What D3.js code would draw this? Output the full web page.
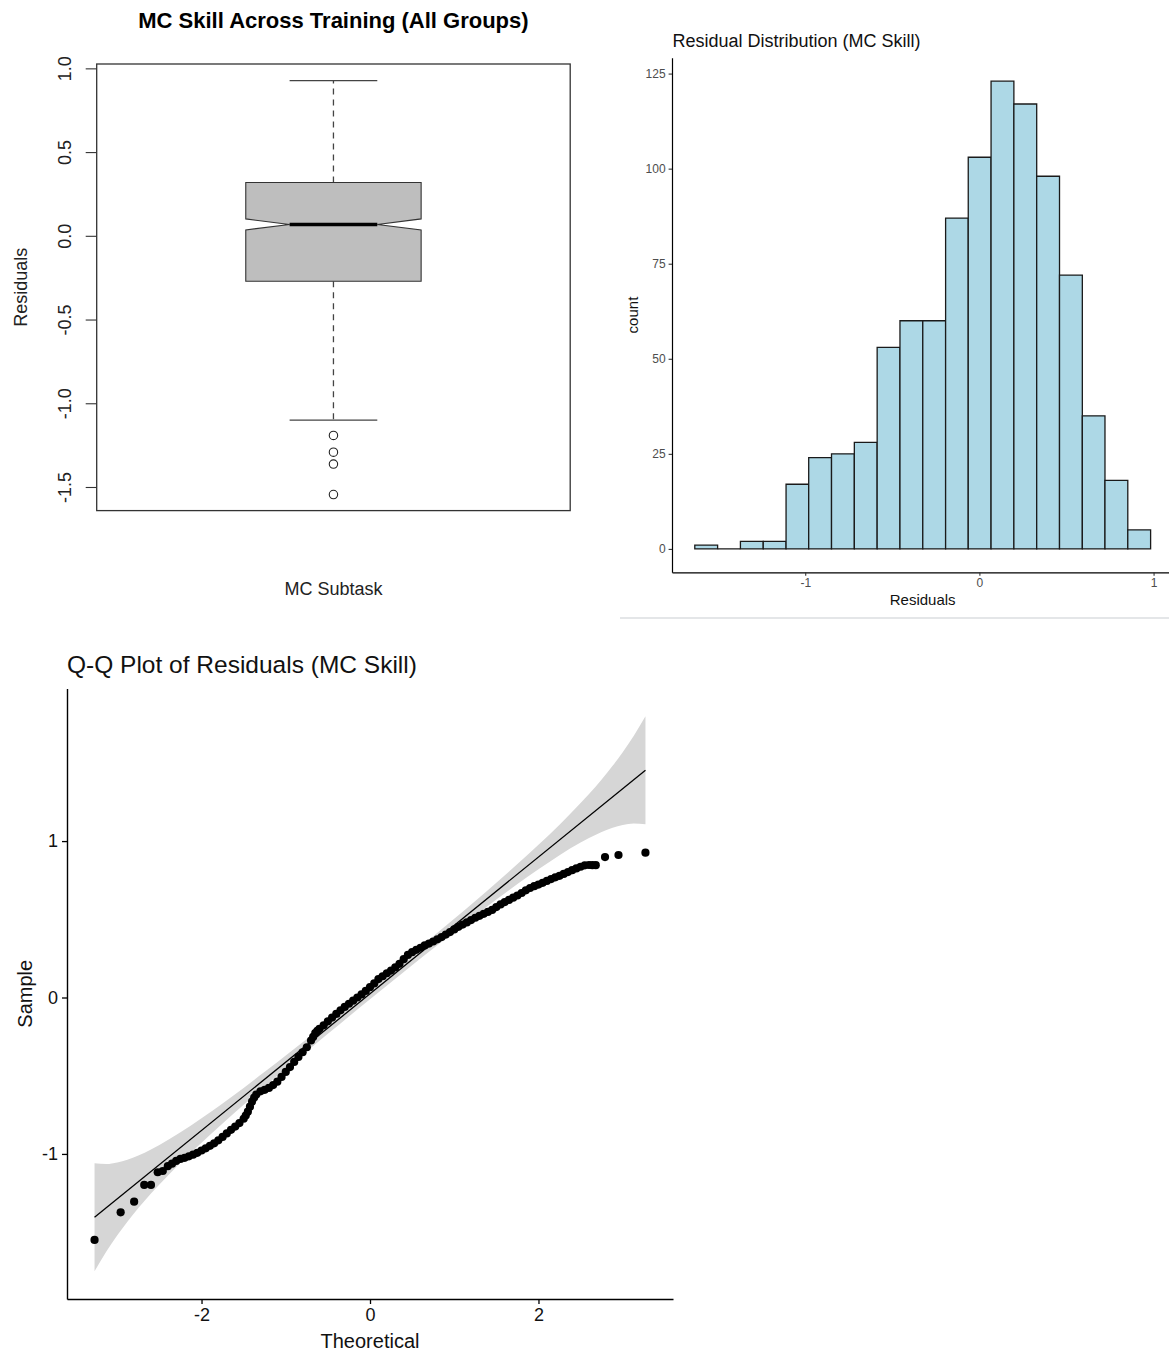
<!DOCTYPE html>
<html>
<head>
<meta charset="utf-8">
<script src="https://cdn.jsdelivr.net/npm/d3@7"></script>
<style>
  body { margin: 0; background: #fff; }
  svg text { font-family: "Liberation Sans", Arial, sans-serif; }
</style>
</head>
<body>
<div id="chart"></div>
<script>
// ---- boxplot data (MC Subtask residuals) ----
var boxCategory = ["MC Subtask"];
var boxStats = [-1.101, -0.271, 0.068, 0.318, 0.927]; // lower whisker, Q1, median, Q3, upper whisker
var boxNotch = [0.035, 0.101];
var boxOutliers = [-1.192, -1.292, -1.363, -1.545];
var boxTicks = [-1.5, -1.0, -0.5, 0.0, 0.5, 1.0];

// ---- histogram data ----
var histBreaks = [-1.634, -1.503, -1.372, -1.241, -1.110, -0.980, -0.849, -0.718, -0.587, -0.456, -0.325,
                  -0.194, -0.064, 0.067, 0.198, 0.329, 0.460, 0.591, 0.721, 0.852, 0.983];
var histCounts = [1, 0, 2, 2, 17, 24, 25, 28, 53, 60, 60, 87, 103, 123, 117, 98, 72, 35, 18, 5];
var histXTicks = [-1, 0, 1];
var histYTicks = [0, 25, 50, 75, 100, 125];

// ---- Q-Q plot data ----
var qqTheoretical = [-3.27, -2.96, -2.80, -2.68, -2.60, -2.52, -2.46,
  -2.40, -2.35, -2.30, -2.25, -2.20, -2.15, -2.10, -2.05, -2.00, -1.95, -1.90, -1.85, -1.80, -1.75,
  -1.70, -1.65, -1.60, -1.55, -1.50, -1.475, -1.45, -1.425, -1.40, -1.375, -1.35, -1.30, -1.25, -1.20, -1.15,
  -1.10, -1.05, -1.00, -0.95, -0.90, -0.85, -0.80, -0.75, -0.70, -0.675, -0.65, -0.625, -0.60, -0.55,
  -0.50, -0.45, -0.40, -0.35, -0.30, -0.25, -0.20, -0.15, -0.10, -0.05, 0.00, 0.05, 0.10, 0.15,
  0.20, 0.25, 0.30, 0.35, 0.40, 0.45, 0.50, 0.55, 0.60, 0.65, 0.70, 0.75, 0.80, 0.85, 0.90, 0.95,
  1.00, 1.05, 1.10, 1.15, 1.20, 1.25, 1.30, 1.35, 1.40, 1.45, 1.50, 1.55, 1.60, 1.65, 1.70, 1.75,
  1.80, 1.85, 1.90, 1.95, 2.00, 2.05, 2.10, 2.15, 2.20, 2.25, 2.30, 2.35, 2.40, 2.45, 2.50, 2.55,
  2.60, 2.64, 2.68, 2.79, 2.95, 3.27];
var qqSample = [-1.550, -1.373, -1.305, -1.198, -1.198, -1.117, -1.109,
  -1.078, -1.062, -1.045, -1.032, -1.025, -1.015, -1.005, -0.993, -0.978, -0.964, -0.948, -0.932, -0.913, -0.891,
  -0.869, -0.846, -0.825, -0.803, -0.775, -0.755, -0.730, -0.698, -0.665, -0.640, -0.620, -0.600, -0.590, -0.578, -0.560,
  -0.538, -0.508, -0.476, -0.445, -0.412, -0.380, -0.350, -0.318, -0.275, -0.252, -0.228, -0.213, -0.200, -0.178,
  -0.152, -0.128, -0.105, -0.082, -0.060, -0.040, -0.020, 0.000, 0.020, 0.042, 0.066, 0.090, 0.118, 0.136,
  0.155, 0.172, 0.192, 0.215, 0.245, 0.272, 0.290, 0.305, 0.318, 0.333, 0.345, 0.358, 0.372, 0.386, 0.402, 0.418,
  0.435, 0.452, 0.466, 0.480, 0.495, 0.510, 0.522, 0.535, 0.547, 0.560, 0.578, 0.595, 0.610, 0.624, 0.638, 0.652,
  0.668, 0.685, 0.700, 0.712, 0.722, 0.733, 0.745, 0.757, 0.768, 0.778, 0.790, 0.802, 0.814, 0.825, 0.836, 0.845,
  0.847, 0.846, 0.846, 0.898, 0.911, 0.926];
var qqLineT = [-3.27, 3.27];
var qqLineS = [-1.405, 1.453];
var qqBandT  = [-3.27, -3.13, -3.00, -2.88, -2.75, -2.60, -2.50, -2.25, -2.00, -1.75, -1.50, -1.25, -1.00, -0.75, -0.50, -0.25,
                0.00, 0.25, 0.50, 0.75, 1.00, 1.25, 1.50, 1.75, 2.00, 2.25, 2.50, 2.60, 2.75, 2.88, 3.00, 3.13, 3.27];
var qqBandHi = [-1.060, -1.064, -1.054, -1.037, -1.010, -0.971, -0.943, -0.862, -0.772, -0.677, -0.578, -0.475, -0.371, -0.265, -0.158, -0.049,
                0.059, 0.169, 0.280, 0.391, 0.503, 0.617, 0.734, 0.853, 0.976, 1.104, 1.243, 1.301, 1.394, 1.481, 1.568, 1.672, 1.798];
var qqBandLo = [-1.750, -1.624, -1.520, -1.433, -1.346, -1.253, -1.195, -1.056, -0.928, -0.805, -0.686, -0.569, -0.455, -0.343, -0.232, -0.121,
                -0.011, 0.097, 0.206, 0.313, 0.419, 0.523, 0.626, 0.725, 0.820, 0.910, 0.991, 1.019, 1.058, 1.085, 1.102, 1.112, 1.108];
var qqXTicks = [-2, 0, 2];
var qqYTicks = [-1, 0, 1];

var W = 1169, H = 1354;
var svg = d3.select("#chart").append("svg")
  .attr("width", W)
  .attr("height", H)
  .style("display", "block");

// =========== Boxplot (base R style) ===========
var bx = d3.scaleLinear().domain([0.46, 1.54]).range([96.7, 570.2]);
var by = d3.scaleLinear().domain([-1.641, 1.026]).range([510.6, 64]);
var box = svg.append("g");

// y axis with rotated labels
var byAxis = box.append("g")
  .attr("transform", "translate(96.7,0)")
  .call(d3.axisLeft(by).tickValues(boxTicks).tickSize(11).tickFormat(function (d) { return d.toFixed(1); }));
byAxis.select(".domain").remove();
byAxis.selectAll("line").attr("stroke", "#333").attr("stroke-width", 1.1);
byAxis.selectAll("text")
  .attr("transform", "rotate(-90)")
  .attr("x", 0).attr("y", -26).attr("dy", 0)
  .style("text-anchor", "middle")
  .style("font-size", "18px")
  .attr("fill", "#222");

// whiskers (dashed)
var cx = bx(1);
box.append("line")
  .attr("x1", cx).attr("x2", cx)
  .attr("y1", by(boxStats[3])).attr("y2", by(boxStats[4]))
  .attr("stroke", "#444").attr("stroke-width", 1.3).attr("stroke-dasharray", "6,5");
box.append("line")
  .attr("x1", cx).attr("x2", cx)
  .attr("y1", by(boxStats[1])).attr("y2", by(boxStats[0]))
  .attr("stroke", "#444").attr("stroke-width", 1.3).attr("stroke-dasharray", "6,5");
// staples
[boxStats[0], boxStats[4]].forEach(function (v) {
  box.append("line")
    .attr("x1", bx(0.9)).attr("x2", bx(1.1))
    .attr("y1", by(v)).attr("y2", by(v))
    .attr("stroke", "#444").attr("stroke-width", 1.4);
});

// notched box
var L = bx(0.8), R = bx(1.2), Li = bx(0.9), Ri = bx(1.1);
var notchPts = [
  [L, by(boxStats[3])], [R, by(boxStats[3])], [R, by(boxNotch[1])], [Ri, by(boxStats[2])],
  [R, by(boxNotch[0])], [R, by(boxStats[1])], [L, by(boxStats[1])], [L, by(boxNotch[0])],
  [Li, by(boxStats[2])], [L, by(boxNotch[1])]
];
box.append("path")
  .attr("d", d3.line()(notchPts) + "Z")
  .attr("fill", "#bebebe")
  .attr("stroke", "#333")
  .attr("stroke-width", 1.1);
// median
box.append("line")
  .attr("x1", Li).attr("x2", Ri)
  .attr("y1", by(boxStats[2])).attr("y2", by(boxStats[2]))
  .attr("stroke", "#000").attr("stroke-width", 3.5);

// outliers
box.selectAll(".outlier")
  .data(boxOutliers)
  .enter().append("circle")
  .attr("class", "outlier")
  .attr("cx", cx)
  .attr("cy", function (d) { return by(d); })
  .attr("r", 4.2)
  .attr("fill", "none")
  .attr("stroke", "#222")
  .attr("stroke-width", 1.1);

// frame
box.append("rect")
  .attr("x", 96.7).attr("y", 64)
  .attr("width", 570.2 - 96.7).attr("height", 510.6 - 64)
  .attr("fill", "none").attr("stroke", "#333").attr("stroke-width", 1.3);

// titles
box.append("text")
  .attr("x", cx).attr("y", 28)
  .style("text-anchor", "middle")
  .style("font-size", "22px").style("font-weight", "bold")
  .text("MC Skill Across Training (All Groups)");
box.append("text")
  .attr("x", cx).attr("y", 595)
  .style("text-anchor", "middle")
  .style("font-size", "18px").attr("fill", "#222")
  .text(boxCategory[0]);
box.append("text")
  .attr("transform", "translate(27," + ((64 + 510.6) / 2) + ") rotate(-90)")
  .style("text-anchor", "middle")
  .style("font-size", "18px").attr("fill", "#222")
  .text("Residuals");

// =========== Histogram (ggplot classic style) ===========
var hist = svg.append("g");
var hLo = histBreaks[0], hHi = histBreaks[histBreaks.length - 1];
var hPad = (hHi - hLo) * 0.05;
var hx = d3.scaleLinear().domain([hLo - hPad, hHi + hPad]).range([672, 1173.4]);
var hMax = d3.max(histCounts);
var hy = d3.scaleLinear().domain([-hMax * 0.05, hMax * 1.05]).range([572.3, 57.8]);

hist.selectAll(".bar")
  .data(histCounts)
  .enter().append("path")
  .attr("class", "bar")
  .attr("d", function (d, i) {
    var x0 = hx(histBreaks[i]), x1 = hx(histBreaks[i + 1]);
    return "M" + x0 + "," + hy(0) + "V" + hy(d) + "H" + x1 + "V" + hy(0) + "Z";
  })
  .attr("fill", "#add8e6")
  .attr("stroke", "#1a1a1a")
  .attr("stroke-width", 1.3);

var hxAxis = hist.append("g")
  .attr("transform", "translate(0,572.3)")
  .call(d3.axisBottom(hx).tickValues(histXTicks).tickSize(3.4).tickSizeOuter(0).tickPadding(3)
    .tickFormat(function (d) { return String(d); }));
var hyAxis = hist.append("g")
  .attr("transform", "translate(672,0)")
  .call(d3.axisLeft(hy).tickValues(histYTicks).tickSize(3.4).tickSizeOuter(0).tickPadding(3));
[hxAxis, hyAxis].forEach(function (a) {
  a.select(".domain").attr("stroke", "#000").attr("stroke-width", 1.2);
  a.selectAll(".tick line").attr("stroke", "#333").attr("stroke-width", 1.1);
  a.selectAll(".tick text").attr("fill", "#4d4d4d").style("font-size", "12px");
});

hist.append("text")
  .attr("x", 672.5).attr("y", 47)
  .style("font-size", "18px").attr("fill", "#111")
  .text("Residual Distribution (MC Skill)");
hist.append("text")
  .attr("x", (672 + 1173.4) / 2).attr("y", 605)
  .style("text-anchor", "middle")
  .style("font-size", "15px").attr("fill", "#111")
  .text("Residuals");
hist.append("text")
  .attr("transform", "translate(637.5," + ((57.8 + 572.3) / 2) + ") rotate(-90)")
  .style("text-anchor", "middle")
  .style("font-size", "15px").attr("fill", "#111")
  .text("count");

// separator below the histogram panel
svg.append("rect")
  .attr("x", 620).attr("y", 617)
  .attr("width", W - 620).attr("height", 2)
  .attr("fill", "#e4e6e8");

// =========== Q-Q plot (ggpubr style) ===========
var qq = svg.append("g");
var tExt = d3.extent(qqTheoretical);
var tPad = (tExt[1] - tExt[0]) * 0.05;
var qx = d3.scaleLinear().domain([tExt[0] - tPad, tExt[1] + tPad]).range([67, 673]);
var sLo = Math.min(d3.min(qqBandLo), d3.min(qqSample));
var sHi = Math.max(d3.max(qqBandHi), d3.max(qqSample));
var sPad = (sHi - sLo) * 0.05;
var qy = d3.scaleLinear().domain([sLo - sPad, sHi + sPad]).range([1299, 688.5]);

var bandIdx = d3.range(qqBandT.length);
qq.append("path")
  .datum(bandIdx)
  .attr("d", d3.area()
    .x(function (i) { return qx(qqBandT[i]); })
    .y0(function (i) { return qy(qqBandLo[i]); })
    .y1(function (i) { return qy(qqBandHi[i]); })
    .curve(d3.curveMonotoneX))
  .attr("fill", "#d6d6d6");

qq.append("line")
  .attr("x1", qx(qqLineT[0])).attr("y1", qy(qqLineS[0]))
  .attr("x2", qx(qqLineT[1])).attr("y2", qy(qqLineS[1]))
  .attr("stroke", "#000").attr("stroke-width", 1.3);

qq.selectAll(".pt")
  .data(qqSample)
  .enter().append("circle")
  .attr("class", "pt")
  .attr("cx", function (d, i) { return qx(qqTheoretical[i]); })
  .attr("cy", function (d) { return qy(d); })
  .attr("r", 4.1)
  .attr("fill", "#000");

var qxAxis = qq.append("g")
  .attr("transform", "translate(0,1299)")
  .call(d3.axisBottom(qx).tickValues(qqXTicks).tickSize(5).tickSizeOuter(0).tickPadding(4)
    .tickFormat(function (d) { return String(d); }));
var qyAxis = qq.append("g")
  .attr("transform", "translate(67,0)")
  .call(d3.axisLeft(qy).tickValues(qqYTicks).tickSize(5).tickSizeOuter(0).tickPadding(4)
    .tickFormat(function (d) { return String(d); }));
[qxAxis, qyAxis].forEach(function (a) {
  a.select(".domain").attr("stroke", "#000").attr("stroke-width", 1.4);
  a.selectAll(".tick line").attr("stroke", "#000").attr("stroke-width", 1.3);
  a.selectAll(".tick text").attr("fill", "#111").style("font-size", "18px");
});

qq.append("text")
  .attr("x", 67).attr("y", 673)
  .style("font-size", "24.5px").attr("fill", "#111")
  .text("Q-Q Plot of Residuals (MC Skill)");
qq.append("text")
  .attr("x", (67 + 673) / 2).attr("y", 1348)
  .style("text-anchor", "middle")
  .style("font-size", "20px").attr("fill", "#111")
  .text("Theoretical");
qq.append("text")
  .attr("transform", "translate(31.5," + ((688.5 + 1299) / 2) + ") rotate(-90)")
  .style("text-anchor", "middle")
  .style("font-size", "20px").attr("fill", "#111")
  .text("Sample");
</script>
</body>
</html>
